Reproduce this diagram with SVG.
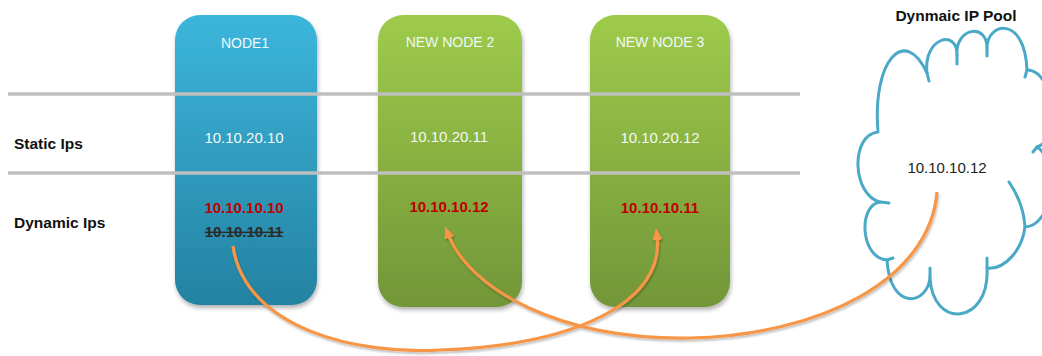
<svg xmlns="http://www.w3.org/2000/svg" width="1042" height="356" viewBox="0 0 1042 356">
  <defs>
    <linearGradient id="gBlue" x1="0" y1="0" x2="0" y2="1">
      <stop offset="0" stop-color="#3cb6dc"/>
      <stop offset="1" stop-color="#2482a1"/>
    </linearGradient>
    <linearGradient id="gGreen" x1="0" y1="0" x2="0" y2="1">
      <stop offset="0" stop-color="#9ecb4b"/>
      <stop offset="1" stop-color="#729638"/>
    </linearGradient>
    <filter id="shadow" x="-10%" y="-10%" width="125%" height="125%">
      <feDropShadow dx="1" dy="3" stdDeviation="2" flood-color="#000" flood-opacity="0.3"/>
    </filter>
    <filter id="lineShadow" x="-5%" y="-5%" width="110%" height="120%">
      <feDropShadow dx="1" dy="2" stdDeviation="1.2" flood-color="#000" flood-opacity="0.25"/>
    </filter>
    <marker id="arrow" viewBox="0 0 12 10" markerWidth="12" markerHeight="10" refX="4" refY="5" orient="auto" markerUnits="userSpaceOnUse">
      <path d="M0,0 L12,5 L0,10 Z" fill="#f79646"/>
    </marker>
    <style>
      .title { font-family: "Liberation Sans", Arial, sans-serif; font-size: 14px; fill: #f0f8fa; text-anchor: middle; }
      .static { font-family: "Liberation Sans", Arial, sans-serif; font-size: 15px; fill: #f4f8f2; text-anchor: middle; }
      .dyn { font-family: "Liberation Sans", Arial, sans-serif; font-size: 15px; font-weight: bold; fill: #c00000; text-anchor: middle; }
      .old { font-family: "Liberation Sans", Arial, sans-serif; font-size: 15px; font-weight: bold; fill: #2b2b2b; text-anchor: middle; text-decoration: line-through; }
      .label { font-family: "Liberation Sans", Arial, sans-serif; font-size: 15.5px; font-weight: bold; fill: #111; }
      .pool { font-family: "Liberation Sans", Arial, sans-serif; font-size: 15px; fill: #222; text-anchor: middle; }
      .row { stroke: #bfbfbf; stroke-width: 3.5; }
      .cloud { fill: #fff; stroke: #4aa9c6; stroke-width: 3; stroke-linejoin: round; stroke-linecap: round; }
      .tick { fill: none; stroke: #4aa9c6; stroke-width: 3; stroke-linecap: round; }
      .link { fill: none; stroke: #f79646; stroke-width: 3.2; marker-end: url(#arrow); }
    </style>
  </defs>

  <rect width="1042" height="356" fill="#ffffff"/>

  <!-- node columns -->
  <g id="node1">
    <rect x="175" y="15" width="142" height="290" rx="25" fill="url(#gBlue)" filter="url(#shadow)"/>
  </g>
  <g id="node2">
    <rect x="378" y="15" width="144" height="292" rx="25" fill="url(#gGreen)" filter="url(#shadow)"/>
  </g>
  <g id="node3">
    <rect x="590" y="15" width="140" height="292" rx="25" fill="url(#gGreen)" filter="url(#shadow)"/>
  </g>

  <!-- row separators -->
  <g id="rows">
    <line class="row" x1="8" y1="94" x2="800" y2="94"/>
    <line class="row" x1="8" y1="173" x2="800" y2="173"/>
  </g>

  <!-- row labels -->
  <g id="row-labels">
    <text class="label" x="14" y="149">Static Ips</text>
    <text class="label" x="14" y="228">Dynamic Ips</text>
  </g>

  <!-- node texts -->
  <g id="node1-text">
    <text class="title" x="245" y="48">NODE1</text>
    <text class="static" x="244" y="143">10.10.20.10</text>
    <text class="dyn" x="244" y="213">10.10.10.10</text>
    <text class="old" x="244" y="237">10.10.10.11</text>
  </g>
  <g id="node2-text">
    <text class="title" x="450" y="47">NEW NODE 2</text>
    <text class="static" x="449" y="142">10.10.20.11</text>
    <text class="dyn" x="449" y="212">10.10.10.12</text>
  </g>
  <g id="node3-text">
    <text class="title" x="660" y="47">NEW NODE 3</text>
    <text class="static" x="660" y="143">10.10.20.12</text>
    <text class="dyn" x="660" y="213">10.10.10.11</text>
  </g>

  <!-- dynamic IP pool -->
  <g id="pool">
    <path class="cloud" d="M878,132 C872,60 905,25 927,73 C923,38 957,28 957,55 C955,28 987,22 987,48 C987,22 1025,15 1027,70 C1055,70 1060,140 1037,147 C1058,160 1055,225 1025,227 C1022,250 1005,270 987,268 C990,325 932,330 930,277 C928,305 890,312 887,260 C860,258 858,205 880,202 C852,195 850,135 878,132 Z"/>
    <path class="tick" d="M927,73 L929,81 M957,55 L957,64 M987,48 L987,56 M1027,70 L1025,77 M1037,147 L1033,152 M880,202 L889,203 M887,260 L893,258 M930,277 L930,268 M987,268 L987,258 M1009,182 C1018,195 1024,210 1025,227"/>
    <text x="956" y="21" class="label" text-anchor="middle" font-size="16">Dynmaic IP Pool</text>
    <text class="pool" x="947" y="173">10.10.10.12</text>
  </g>

  <!-- IP reassignment connectors -->
  <g id="connectors" filter="url(#lineShadow)">
    <path class="link" d="M233,246 C245,330 360,355 440,350 C580,345 665,300 657,236"/>
    <path class="link" d="M937,192 C930,280 820,335 690,338 C560,340 470,290 448,234"/>
  </g>
</svg>
